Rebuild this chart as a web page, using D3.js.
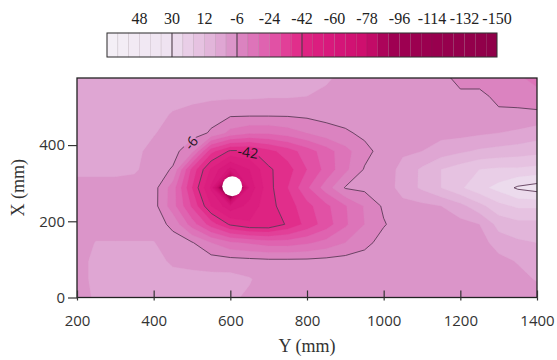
<!DOCTYPE html>
<html>
<head>
<meta charset="utf-8">
<script src="https://cdn.jsdelivr.net/npm/d3@7"></script>
<style>
    body { margin: 0; background: #fff; }
</style>
</head>
<body>
<svg width="557" height="360"></svg>
<script>
// grid columns: Y (mm), grid rows: X (mm), rows listed from the top of the plot down
let gridY = [200, 250, 300, 350, 400, 450, 500, 550, 600, 650, 700, 750, 800, 850, 900, 950, 1000, 1050, 1100, 1150, 1200, 1250, 1300, 1350, 1400];
let gridX = [576, 528, 480, 432, 384, 336, 288, 240, 192, 144, 96, 48, 0];

// measured value per grid node (one row per X)
let field = [
    [2, 2, 2, 2, 2, 2, 2, 2, 2, 2, 2, 2, 2, 1, -2, -3, -3, -3, -3, -3, -9, -9, -9, -11, -14],
    [2, 2, 2, 2, 2, 2, 2, 1.5, 1, 1, 0.5, 0.5, 0, -1.5, -3, -3, -3, -3, -3, -3, -4, -4, -8, -8.5, -10],
    [2, 2, 2, 2, 2, -0.5, -2.5, -4.5, -5, -5, -5, -5, -4.5, -4, -3, -3, -3, -3, -3, -3, -3.5, -4, -4.5, -4.5, -4.5],
    [2, 2, 2, 2, 0.5, -3, -4, -6.5, -14, -17, -17, -15, -12, -8.5, -7, -4.5, -3, -3, -3, -2, -2, -1, 0, 1, 3],
    [2, 2, 2, 1.5, -2, -4, -10, -34, -43, -43, -38, -33, -27, -21, -14, -8, -3.5, -1, 0, 3, 5, 7, 8, 9, 10],
    [2, 2, 2, 1, -3.5, -6.5, -32, -49, -62, -54, -43, -38.5, -30, -22, -13.5, -5.5, -3.5, 2, 7, 12, 15, 18, 19, 19, 20],
    [-3, -3, -3, -3, -3.5, -15, -36, -55, -130, -58, -44, -36, -25, -15, -5.5, -4.5, -3.5, 2.5, 7, 12, 17, 22, 26, 31, 33],
    [-3, -3, -3, -3, -3.5, -15.5, -31, -48, -58, -52, -44, -39, -32, -25.5, -18.5, -11.5, -5, -2, -1.5, 0, 4, 10, 16, 19, 19],
    [-3, -3, -3, -3, -3, -7.5, -21, -33, -43, -47, -47, -41, -34, -27, -19, -12, -6.5, -3, -3, -3, -2, 0, 8, 10, 10],
    [-3, 0.3, 0.3, 0.3, 0.3, -3.5, -5.5, -12, -17, -19, -21, -21, -19, -16, -12, -8, -3.5, -3, -3, -3, -3, -3, 3, 5, 6],
    [-3, 2, 2, 2, 2, -1, -2, -3, -3.5, -4, -4.5, -4.5, -4.5, -4, -3.5, -3, -3, -3, -3, -3, -3, -3, -2, 0.5, 3],
    [-3, 2, 2, 2, 2, 2, 2, 2, 2, 0.5, -3, -3, -3, -3, -3, -3, -3, -3, -3, -3, -3, -3, -3, -2, 0.5],
    [-3, 1, 1, 1, 1, 1, 1, 1, 1, -1, -3, -3, -3, -3, -3, -3, -3, -3, -3, -3, -3, -3, -3, -3, -3]
];

// colour band edges, drawn contour lines, colour bar labels
let bandEdges = [66, 60, 54, 48, 42, 36, 30, 24, 18, 12, 6, 0, -6, -12, -18, -24, -30, -36, -42, -48, -54, -60, -66, -72, -78, -84, -90, -96, -102, -108, -114, -120, -126, -132, -138, -144, -150];
let lineLevels = [30, -6, -42];
let barTicks = [48, 30, 12, -6, -24, -42, -60, -78, -96, -114, -132, -150];

// hole (no data) and contour labels
let holeY = [605];
let holeX = [292];
let holeR = [26];
let labelText = ["-6", "-42"];
let labelY = [497, 646];
let labelX = [406, 382];

let yTicks = [200, 400, 600, 800, 1000, 1200, 1400];
let xTicks = [0, 200, 400];

let svg = d3.select("svg");
let margin = {top: 78, right: 20, bottom: 62.5, left: 77};
let width = +svg.attr("width") - margin.left - margin.right;
let height = +svg.attr("height") - margin.top - margin.bottom;

let x = d3.scaleLinear().domain([200, 1400]).range([0, width]);
let y = d3.scaleLinear().domain([0, 576]).range([height, 0]);

let color = d3.scaleLinear()
    .domain([66, 30, 24, 12, 0, -6, -12, -24, -36, -42, -60, -78, -84, -90, -150])
    .range(["#f4f0f7", "#eee2f0", "#ead4ea", "#e4bcde", "#dd9fcf", "#d98ac2", "#dc7cbd", "#e05aab",
            "#e23692", "#e02684", "#d6167a", "#cc0e6c", "#b80862", "#a00052", "#8e0048"])
    .interpolate(d3.interpolateRgb);

let defs = svg.append("defs");
defs.append("clipPath").attr("id", "plotclip")
    .append("rect").attr("width", width).attr("height", height);

let g = svg.append("g")
    .attr("transform", "translate(" + margin.left + "," + margin.top + ")");

// grid index -> pixel
let n = gridY.length, m = gridX.length;
let gx = d3.scaleLinear().domain([0.5, n - 0.5]).range([x(gridY[0]), x(gridY[n - 1])]);
let gy = d3.scaleLinear().domain([0.5, m - 0.5]).range([y(gridX[0]), y(gridX[m - 1])]);
let path = d3.geoPath(d3.geoTransform({
    point: function (px, py) {
        this.stream.point(gx(px), gy(py));
    }
}));

let values = field.flat();
let thresholds = bandEdges.slice().sort(function (a, b) { return a - b; });

let plot = g.append("g").attr("clip-path", "url(#plotclip)");

plot.append("g")
    .selectAll("path")
    .data(d3.contours().size([n, m]).thresholds(thresholds)(values))
    .enter().append("path")
    .attr("d", path)
    .attr("fill", function (d) {
        return color(d.value + 3);
    })
    .attr("stroke", function (d) {
        return color(d.value + 3);
    })
    .attr("stroke-width", 0.3);

// labels first measured, then used to cut the contour lines
let labelG = g.append("g");
let mask = defs.append("mask").attr("id", "lblmask");
mask.append("rect").attr("x", -10).attr("y", -10)
    .attr("width", width + 20).attr("height", height + 20).attr("fill", "#fff");

let labelAngle = [-52, 8];
labelText.forEach(function (t, i) {
    let tr = "translate(" + x(labelY[i]) + "," + y(labelX[i]) + ") rotate(" + labelAngle[i] + ")";
    let txt = labelG.append("text")
        .attr("transform", tr)
        .attr("text-anchor", "middle")
        .attr("dominant-baseline", "central")
        .attr("font-family", "'Open Sans', sans-serif")
        .attr("font-size", 14)
        .attr("fill", "#1e1420")
        .text(t);
    let b = txt.node().getBBox();
    mask.append("rect")
        .attr("transform", tr)
        .attr("x", b.x - 1).attr("y", b.y + 1)
        .attr("width", b.width + 2).attr("height", b.height - 2)
        .attr("fill", "#000");
});

plot.append("g")
    .attr("mask", "url(#lblmask)")
    .selectAll("path")
    .data(d3.contours().size([n, m]).thresholds(lineLevels)(values))
    .enter().append("path")
    .attr("d", path)
    .attr("fill", "none")
    .attr("stroke", "#5e3a58")
    .attr("stroke-width", 0.9);

plot.selectAll(".hole")
    .data(holeY)
    .enter().append("circle")
    .attr("class", "hole")
    .attr("cx", function (d) { return x(d); })
    .attr("cy", function (d, i) { return y(holeX[i]); })
    .attr("r", function (d, i) { return x(d + holeR[i]) - x(d); })
    .attr("fill", "#fff");

labelG.raise();

// frame
g.append("rect")
    .attr("width", width).attr("height", height)
    .attr("fill", "none").attr("stroke", "#222").attr("stroke-width", 1.3);

// axes
let axisFont = function (sel) {
    sel.select(".domain").remove();
    sel.selectAll("text")
        .attr("font-family", "'Open Sans', sans-serif")
        .attr("font-size", 15)
        .attr("fill", "#333");
    sel.selectAll("line").attr("stroke", "#333").attr("stroke-width", 1.2);
};

g.append("g")
    .attr("transform", "translate(0," + height + ")")
    .call(d3.axisBottom(x).tickValues(yTicks).tickSize(-7).tickFormat(""))
    .call(axisFont);

g.append("g")
    .attr("transform", "translate(0," + height + ")")
    .call(d3.axisBottom(x).tickValues(yTicks).tickSize(3).tickPadding(15).tickFormat(d3.format("d")))
    .call(axisFont);

g.append("g")
    .call(d3.axisLeft(y).tickValues(xTicks).tickSize(9).tickPadding(3).tickFormat(d3.format("d")))
    .call(axisFont);

g.append("text")
    .attr("transform", "rotate(-90)")
    .attr("x", -height / 2)
    .attr("y", 24 - margin.left)
    .attr("text-anchor", "middle")
    .attr("font-family", "'Liberation Serif', serif")
    .attr("font-size", 18)
    .attr("fill", "#333")
    .text("X (mm)");

g.append("text")
    .attr("x", width / 2)
    .attr("y", 352 - margin.top)
    .attr("text-anchor", "middle")
    .attr("font-family", "'Liberation Serif', serif")
    .attr("font-size", 18)
    .attr("fill", "#333")
    .text("Y (mm)");

// colour bar
let cb = d3.scaleLinear().domain([66, -150]).range([107, 497]);
let bar = svg.append("g");
let bins = d3.pairs(bandEdges);

bar.selectAll(".bin")
    .data(bins)
    .enter().append("rect")
    .attr("class", "bin")
    .attr("x", function (d) { return cb(d[0]); })
    .attr("y", 33)
    .attr("width", function (d) { return cb(d[1]) - cb(d[0]); })
    .attr("height", 24)
    .attr("fill", function (d) { return color((d[0] + d[1]) / 2); })
    .attr("stroke", "rgba(90,60,80,0.18)")
    .attr("stroke-width", 0.6);

bar.selectAll(".lvl")
    .data(lineLevels)
    .enter().append("line")
    .attr("class", "lvl")
    .attr("x1", function (d) { return cb(d); })
    .attr("x2", function (d) { return cb(d); })
    .attr("y1", 33).attr("y2", 57)
    .attr("stroke", "#4a3a46").attr("stroke-width", 1);

bar.append("rect")
    .attr("x", cb(66)).attr("y", 33)
    .attr("width", cb(-150) - cb(66)).attr("height", 24)
    .attr("fill", "none").attr("stroke", "#333").attr("stroke-width", 1);

bar.selectAll(".cbl")
    .data(barTicks)
    .enter().append("text")
    .attr("class", "cbl")
    .attr("x", function (d) { return cb(d); })
    .attr("y", 24)
    .attr("text-anchor", "middle")
    .attr("font-family", "'Liberation Serif', serif")
    .attr("font-size", 16)
    .attr("fill", "#222")
    .text(function (d) { return d; });
</script>
</body>
</html>
